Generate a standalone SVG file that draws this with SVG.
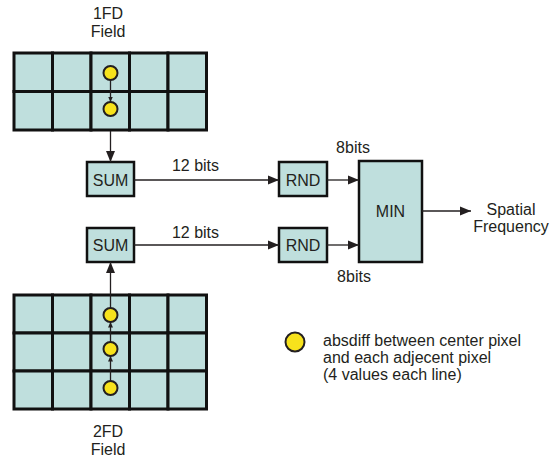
<svg xmlns="http://www.w3.org/2000/svg" width="550" height="460" viewBox="0 0 550 460">
<style>
text{font-family:"Liberation Sans",Arial,sans-serif;font-size:16px;fill:#231f20}
.mid{text-anchor:middle}
.cell{fill:#bfdfdd;stroke:#111;stroke-width:3}
.box{fill:#bfdfdd;stroke:#111;stroke-width:2.5}
.dot{fill:#f7e21c;stroke:#231f20;stroke-width:2}
.con{stroke:#231f20;stroke-width:1.3;fill:none}
</style>
<defs>
<marker id="ah" markerUnits="userSpaceOnUse" markerWidth="12" markerHeight="10" refX="11" refY="5" orient="auto"><path d="M0,0.5 L11,5 L0,9.5 z" fill="#231f20"/></marker>
<marker id="as" markerUnits="userSpaceOnUse" markerWidth="6" markerHeight="6" refX="5.5" refY="3" orient="auto"><path d="M0,0.5 L5.5,3 L0,5.5 z" fill="#231f20"/></marker>
</defs>
<g id="field1">
<text class="mid" x="108" y="19">1FD</text>
<text class="mid" x="108" y="37">Field</text>
<g class="cell">
<rect x="14" y="53" width="38.5" height="38.5"/><rect x="52.5" y="53" width="38.5" height="38.5"/><rect x="91" y="53" width="38.5" height="38.5"/><rect x="129.5" y="53" width="38.5" height="38.5"/><rect x="168" y="53" width="38.5" height="38.5"/>
<rect x="14" y="91.5" width="38.5" height="38.5"/><rect x="52.5" y="91.5" width="38.5" height="38.5"/><rect x="91" y="91.5" width="38.5" height="38.5"/><rect x="129.5" y="91.5" width="38.5" height="38.5"/><rect x="168" y="91.5" width="38.5" height="38.5"/>
</g>
<circle class="dot" cx="110.5" cy="73" r="7"/>
<circle class="dot" cx="110.5" cy="109" r="7"/>
<line class="con" x1="110.5" y1="80" x2="110.5" y2="102" marker-end="url(#as)"/>
</g>
<g id="field2">
<g class="cell">
<rect x="14" y="295" width="38.5" height="38"/><rect x="52.5" y="295" width="38.5" height="38"/><rect x="91" y="295" width="38.5" height="38"/><rect x="129.5" y="295" width="38.5" height="38"/><rect x="168" y="295" width="38.5" height="38"/>
<rect x="14" y="333" width="38.5" height="38"/><rect x="52.5" y="333" width="38.5" height="38"/><rect x="91" y="333" width="38.5" height="38"/><rect x="129.5" y="333" width="38.5" height="38"/><rect x="168" y="333" width="38.5" height="38"/>
<rect x="14" y="371" width="38.5" height="38"/><rect x="52.5" y="371" width="38.5" height="38"/><rect x="91" y="371" width="38.5" height="38"/><rect x="129.5" y="371" width="38.5" height="38"/><rect x="168" y="371" width="38.5" height="38"/>
</g>
<circle class="dot" cx="110.5" cy="315" r="7"/>
<circle class="dot" cx="110.5" cy="349" r="7"/>
<circle class="dot" cx="110.5" cy="388" r="7"/>
<line class="con" x1="110.5" y1="381" x2="110.5" y2="356" marker-end="url(#as)"/>
<line class="con" x1="110.5" y1="342" x2="110.5" y2="322" marker-end="url(#as)"/>
<text class="mid" x="108" y="437">2FD</text>
<text class="mid" x="108" y="455">Field</text>
</g>
<g id="sum1"><rect class="box" x="87" y="162" width="47" height="34"/><text class="mid" x="110.5" y="186">SUM</text></g>
<g id="sum2"><rect class="box" x="87" y="228" width="47" height="34"/><text class="mid" x="110.5" y="251">SUM</text></g>
<g id="rnd1"><rect class="box" x="279" y="162" width="48" height="34"/><text class="mid" x="303" y="186">RND</text></g>
<g id="rnd2"><rect class="box" x="279" y="228" width="48" height="34"/><text class="mid" x="303" y="251">RND</text></g>
<g id="min"><rect class="box" x="359" y="161" width="63" height="101"/><text class="mid" x="390.5" y="217">MIN</text></g>
<g id="output"><text class="mid" x="511" y="215">Spatial</text><text class="mid" x="511" y="232">Frequency</text></g>
<g id="connectors">
<line class="con" x1="110.5" y1="131" x2="110.5" y2="162" marker-end="url(#ah)"/>
<line class="con" x1="110.5" y1="308" x2="110.5" y2="262" marker-end="url(#ah)"/>
<line class="con" x1="134" y1="180" x2="279" y2="180" marker-end="url(#ah)"/>
<line class="con" x1="134" y1="245" x2="279" y2="245" marker-end="url(#ah)"/>
<line class="con" x1="327" y1="180" x2="359" y2="180" marker-end="url(#ah)"/>
<line class="con" x1="327" y1="245" x2="359" y2="245" marker-end="url(#ah)"/>
<line class="con" x1="422" y1="211" x2="471" y2="211" marker-end="url(#ah)"/>
<text class="mid" x="195.5" y="171">12 bits</text>
<text class="mid" x="195.5" y="238">12 bits</text>
<text class="mid" x="353" y="153">8bits</text>
<text class="mid" x="354" y="282">8bits</text>
</g>
<g id="legend">
<circle class="dot" cx="295" cy="342" r="9.5"/>
<text x="323" y="346">absdiff between center pixel</text>
<text x="323" y="363">and each adjecent pixel</text>
<text x="323" y="380">(4 values each line)</text>
</g>
</svg>
